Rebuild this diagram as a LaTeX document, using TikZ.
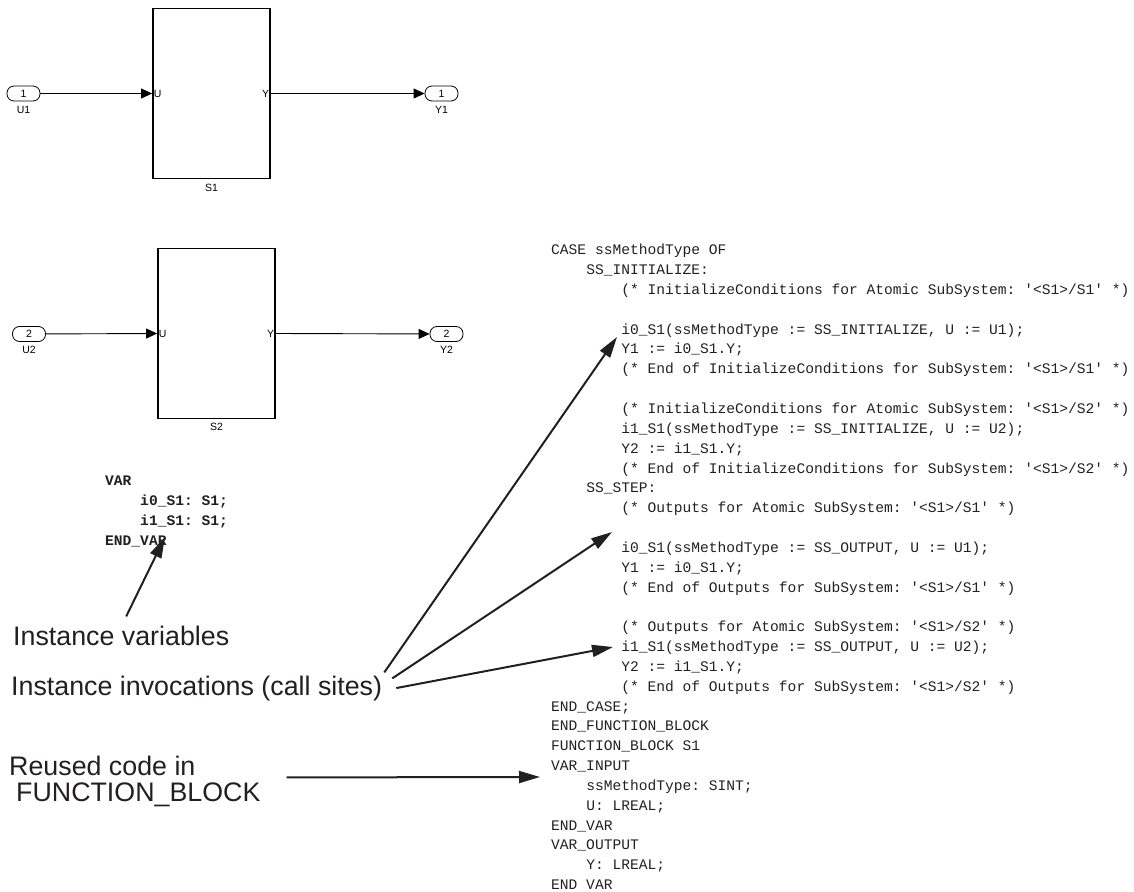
\documentclass[tikz,border=0pt]{standalone}
\usepackage{fontspec}
\setmainfont{Liberation Sans}
\setmonofont{Liberation Mono}
\usepackage{xcolor}
\usepackage{tikz}
\usetikzlibrary{arrows.meta,positioning}

\definecolor{ink}{HTML}{231F20}

\tikzset{
  block/.style={draw, line width=1.8pt, minimum width=117pt, minimum height=170pt, inner sep=0pt},
  port/.style={draw, line width=0.8pt, rounded corners=7pt, minimum width=33pt, minimum height=15pt, inner sep=0pt, font=\fontsize{10.5}{11}\selectfont},
  small/.style={font=\fontsize{10.5}{11}\selectfont, inner sep=1.5pt},
  sig/.style={-{Triangle[length=11pt,width=10pt]}, line width=0.9pt},
  pointer/.style={-{Triangle[length=21pt,width=12pt]}, line width=2pt, draw=ink},
  callout/.style={font=\fontsize{26.8}{25.7}\selectfont, text=ink, inner sep=0pt, align=left},
  codetext/.style={font=\ttfamily\fontsize{14.6}{19.84}\selectfont, text=ink, inner sep=0pt, align=left},
  vartext/.style={font=\ttfamily\bfseries\fontsize{14.6}{20}\selectfont, text=ink, inner sep=0pt, align=left}
}

\begin{document}
\begin{tikzpicture}[x=1pt,y=-1pt]
\useasboundingbox (0,0) rectangle (1134,891);

% The first subsystem
\node[port] (u1) at (23.5,93.5) {1};
\node[block, label={[small, label distance=3pt]below:S1}] (s1) at (211.5,93.5) {};
\node[port] (y1) at (441.5,93.5) {1};
\node[small, below=3pt of u1] (u1name) {U1};
\node[small, below=3pt of y1] (y1name) {Y1};
\node[small, anchor=west] (s1u) at (s1.west) {U};
\node[small, anchor=east] (s1y) at (s1.east) {Y};
\draw[sig] (u1) -- (s1.west);
\draw[sig] (s1.east) -- (y1);

% The second subsystem
\node[port] (u2) at (29,334) {2};
\node[block, label={[small, label distance=2pt]below:S2}] (s2) at (216.5,333.5) {};
\node[port] (y2) at (446.5,334) {2};
\node[small, below=3pt of u2] (u2name) {U2};
\node[small, below=3pt of y2] (y2name) {Y2};
\node[small, anchor=west] (s2u) at (s2.west) {U};
\node[small, anchor=east] (s2y) at (s2.east) {Y};
\draw[sig] (u2) -- (s2.west);
\draw[sig] (s2.east) -- (y2);

% The instance variables
\node[vartext, anchor=north west] (vars) at (105,475.5) {VAR\\
~~~~i0\_S1: S1;\\
~~~~i1\_S1: S1;\\
END\_VAR};

% The generated code
\node[codetext, anchor=north west] (code) at (551,244) {CASE ssMethodType OF\\
~~~~SS\_INITIALIZE:\\
~~~~~~~~(* InitializeConditions for Atomic SubSystem: '<S1>/S1' *)\\
\mbox{}\\
~~~~~~~~i0\_S1(ssMethodType := SS\_INITIALIZE, U := U1);\\
~~~~~~~~Y1 := i0\_S1.Y;\\
~~~~~~~~(* End of InitializeConditions for SubSystem: '<S1>/S1' *)\\
\mbox{}\\
~~~~~~~~(* InitializeConditions for Atomic SubSystem: '<S1>/S2' *)\\
~~~~~~~~i1\_S1(ssMethodType := SS\_INITIALIZE, U := U2);\\
~~~~~~~~Y2 := i1\_S1.Y;\\
~~~~~~~~(* End of InitializeConditions for SubSystem: '<S1>/S2' *)\\
~~~~SS\_STEP:\\
~~~~~~~~(* Outputs for Atomic SubSystem: '<S1>/S1' *)\\
\mbox{}\\
~~~~~~~~i0\_S1(ssMethodType := SS\_OUTPUT, U := U1);\\
~~~~~~~~Y1 := i0\_S1.Y;\\
~~~~~~~~(* End of Outputs for SubSystem: '<S1>/S1' *)\\
\mbox{}\\
~~~~~~~~(* Outputs for Atomic SubSystem: '<S1>/S2' *)\\
~~~~~~~~i1\_S1(ssMethodType := SS\_OUTPUT, U := U2);\\
~~~~~~~~Y2 := i1\_S1.Y;\\
~~~~~~~~(* End of Outputs for SubSystem: '<S1>/S2' *)\\
END\_CASE;\\
END\_FUNCTION\_BLOCK\\
FUNCTION\_BLOCK S1\\
VAR\_INPUT\\
~~~~ssMethodType: SINT;\\
~~~~U: LREAL;\\
END\_VAR\\
VAR\_OUTPUT\\
~~~~Y: LREAL;\\
END VAR};

% The labels
\node[callout, anchor=base west] (lblvars) at (13,645) {Instance variables};
\node[callout, anchor=base west] (lblcalls) at (11,695) {Instance invocations (call sites)};
\node[callout, anchor=north west] (lblreuse) at (9,756) {Reused code in\\\hspace*{7pt}FUNCTION\_BLOCK};

% The pointers
\coordinate (vardecl) at (165,537);
\coordinate (initcall) at (617,337);
\coordinate (stepcall) at (612,532);
\coordinate (stepcalltwo) at (613,647);
\coordinate (fbstart) at (540,777);
\draw[pointer] ([xshift=5pt,yshift=9pt]lblvars.north) -- (vardecl);
\draw[pointer] ([xshift=2pt,yshift=3pt]lblcalls.north east) -- (initcall);
\draw[pointer] ([xshift=10pt,yshift=-3pt]lblcalls.north east) -- (stepcall);
\draw[pointer] ([xshift=14pt]lblcalls.east) -- (stepcalltwo);
\draw[pointer] ([xshift=26pt,yshift=4pt]lblreuse.east) -- (fbstart);
\end{tikzpicture}
\end{document}
